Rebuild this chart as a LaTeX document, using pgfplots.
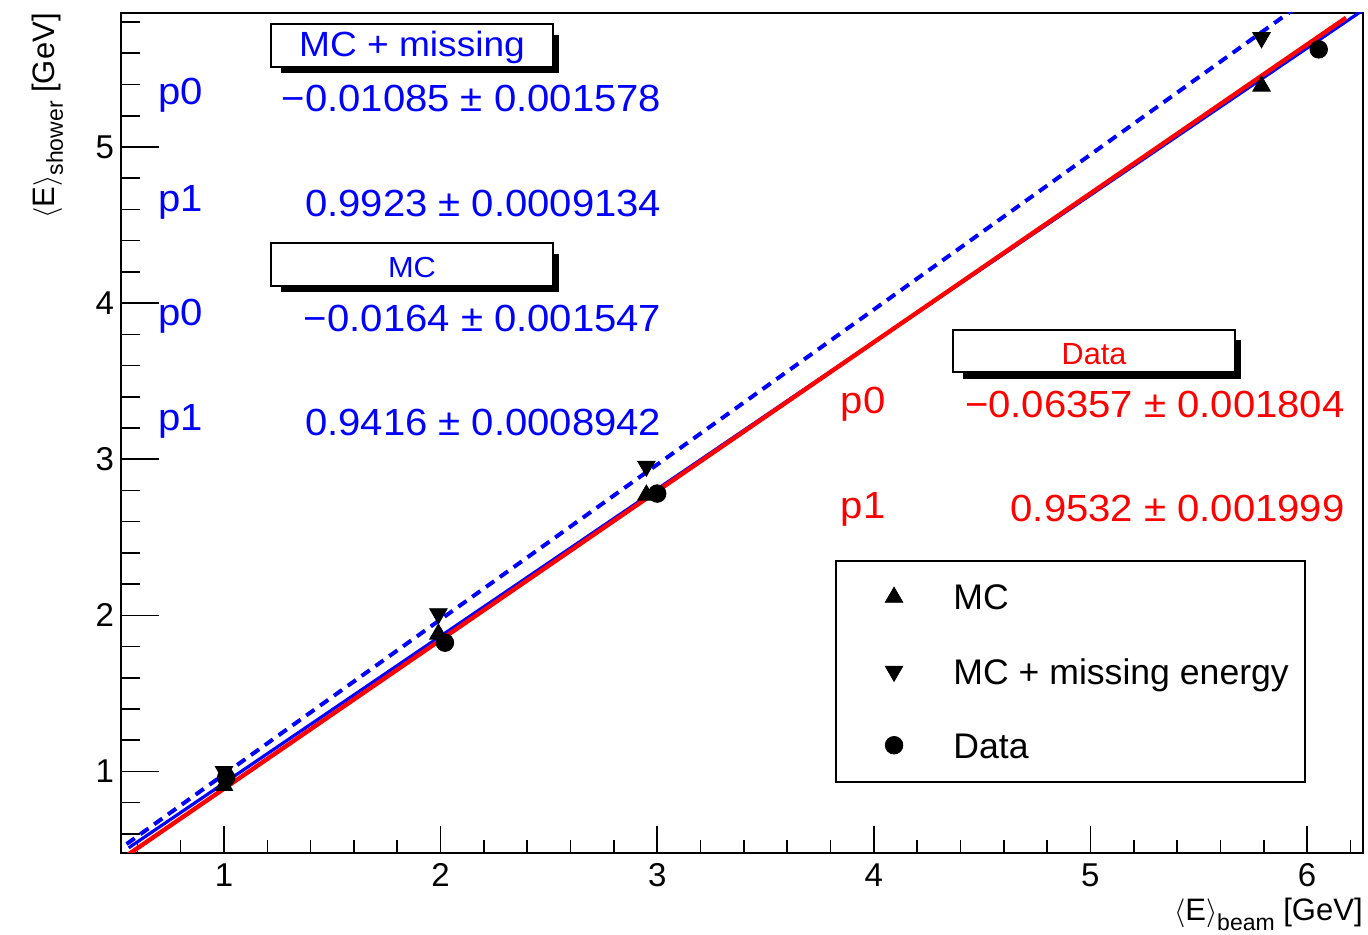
\documentclass[border=0pt]{standalone}
\usepackage{pgfplots}
\pgfplotsset{compat=1.18}
\usepackage{fontspec}
\setmainfont{Liberation Sans}
\newfontfamily\valfont[FakeStretch=1.06]{Liberation Sans}
\newcommand\vf{\fontsize{18.9}{20}\valfont}
\pgfplotsset{mylegimg/.style={legend image code/.code={\path (-21pt,0pt) (29.5pt,0pt); \draw[##1] plot coordinates {(0pt,0pt)};}}}
\begin{document}
\begin{tikzpicture}
\begin{axis}[
  at={(0,0)}, anchor=south west,
  scale only axis, width=621pt, height=419.9pt,
  xmin=0.5245, xmax=6.2585, ymin=0.481, ymax=5.860,
  xtick={1,2,3,4,5,6}, ytick={1,2,3,4,5},
  minor xtick={0.6,0.8,1.2,1.4,1.6,1.8,2.2,2.4,2.6,2.8,3.2,3.4,3.6,3.8,4.2,4.4,4.6,4.8,5.2,5.4,5.6,5.8,6.2},
  minor ytick={0.6,0.8,1.2,1.4,1.6,1.8,2.2,2.4,2.6,2.8,3.2,3.4,3.6,3.8,4.2,4.4,4.6,4.8,5.2,5.4,5.6,5.8},
  xtick pos=left, ytick pos=left, tick align=inside,
  major tick length=18.75pt, minor tick length=9.6pt,
  xtick style={/pgfplots/major tick length=13pt, /pgfplots/minor tick length=6.3pt},
  tick style={line width=0.8pt, black},
  axis line style={line width=1pt},
  ticklabel style={font=\fontsize{16.5}{17}\selectfont},
  xticklabel style={yshift=-2pt},
  /pgf/number format/assume math mode=true,
  legend cell align=left,
  legend style={at={(rel axis cs:0.5746,0.3483)}, anchor=north west, draw=black, line width=1pt, fill=white,
    inner xsep=8pt, inner ysep=11.75pt, row sep=24.25pt,
    font=\fontsize{17.8}{20}\selectfont,
    nodes={inner sep=0pt, text height=12.75pt, text depth=0pt}},
]
\addplot[only marks, mark=triangle*, mark size=5.05pt, black, line width=0.4pt, mylegimg]
  coordinates {(1.0,0.91) (1.99,1.88) (2.95,2.77) (5.79,5.39)};
\addlegendentry{MC}
\addplot[only marks, mark=triangle*, mark size=5.05pt, mark options={rotate=180}, black, line width=0.4pt, mylegimg]
  coordinates {(1.0,1.0) (1.99,2.01) (2.95,2.955) (5.79,5.70)};
\addlegendentry{MC + missing energy}
\addplot[only marks, mark=*, mark size=4.4pt, black, line width=0.4pt, mylegimg]
  coordinates {(1.01,0.96) (2.02,1.825) (3.0,2.78) (6.054,5.625)};
\addlegendentry{Data}
\addplot[blue, line width=2pt, dash pattern=on 5pt off 3.5pt, forget plot]
  coordinates {(0.55,0.5349) (6.0,5.9430)};
\addplot[blue, line width=1.6pt, forget plot]
  coordinates {(0.56,0.5109) (6.26,5.8781)};
\addplot[red, line width=2.2pt, forget plot]
  coordinates {(0.55,0.4607) (6.18,5.8272)};
\end{axis}
\begin{scope}[x=0.5pt,y=-0.5pt,shift={(-60.5pt,426.25pt)}]
  % box MC + missing
  \fill[black] (281,35) rectangle (559,73);
  \draw[line width=1pt, fill=white] (271,24) rectangle (553,66.7);
  \node[anchor=base, inner sep=0pt, text=blue, font=\fontsize{17.5}{18}\valfont] at (412,56.7) {MC + missing};
  % box MC
  \fill[black] (281,254) rectangle (559,292);
  \draw[line width=1pt, fill=white] (271,243.3) rectangle (553,285.7);
  \node[anchor=base, inner sep=0pt, text=blue, font=\fontsize{14.5}{15}\valfont] at (412,277.3) {MC};
  % box Data
  \fill[black] (963,340) rectangle (1241,379);
  \draw[line width=1pt, fill=white] (953,330) rectangle (1235,372.3);
  \node[anchor=base, inner sep=0pt, text=red, font=\fontsize{15.3}{16}\selectfont] at (1094,365) {Data};
  % blue parameters
  \begin{scope}[every node/.style={inner sep=0pt, text=blue, font=\vf}]
    \node[anchor=base west] at (158.3,105) {p0};
    \node[anchor=base east] at (661.7,111.5) {−0.01085 ± 0.001578};
    \node[anchor=base west] at (158.3,212) {p1};
    \node[anchor=base east] at (661.7,216.5) {0.9923 ± 0.0009134};
    \node[anchor=base west] at (158.3,326) {p0};
    \node[anchor=base east] at (661.7,331.5) {−0.0164 ± 0.001547};
    \node[anchor=base west] at (158.3,431) {p1};
    \node[anchor=base east] at (661.7,435.5) {0.9416 ± 0.0008942};
  \end{scope}
  \begin{scope}[every node/.style={inner sep=0pt, text=red, font=\vf}]
    \node[anchor=base west] at (840.5,414) {p0};
    \node[anchor=base east] at (1345,418) {−0.06357 ± 0.001804};
    \node[anchor=base west] at (840.5,519) {p1};
    \node[anchor=base east] at (1345,522) {0.9532 ± 0.001999};
  \end{scope}
  % axis titles
  \node[anchor=base east, inner sep=0pt, font=\fontsize{15.5}{16}\selectfont] at (1363,920)
    {$\langle$E$\rangle$\raisebox{-5pt}{\fontsize{11.5}{12}\selectfont beam} [GeV]};
  \node[rotate=90, anchor=base east, inner sep=0pt, font=\fontsize{15.5}{16}\selectfont] at (55,13)
    {$\langle$E$\rangle$\raisebox{-4pt}{\fontsize{11.5}{12}\selectfont shower} [GeV]};
\end{scope}
\pgfresetboundingbox
\path[use as bounding box] (-60.5pt,-41.25pt) rectangle (623.5pt,426.25pt);
\end{tikzpicture}
\end{document}
